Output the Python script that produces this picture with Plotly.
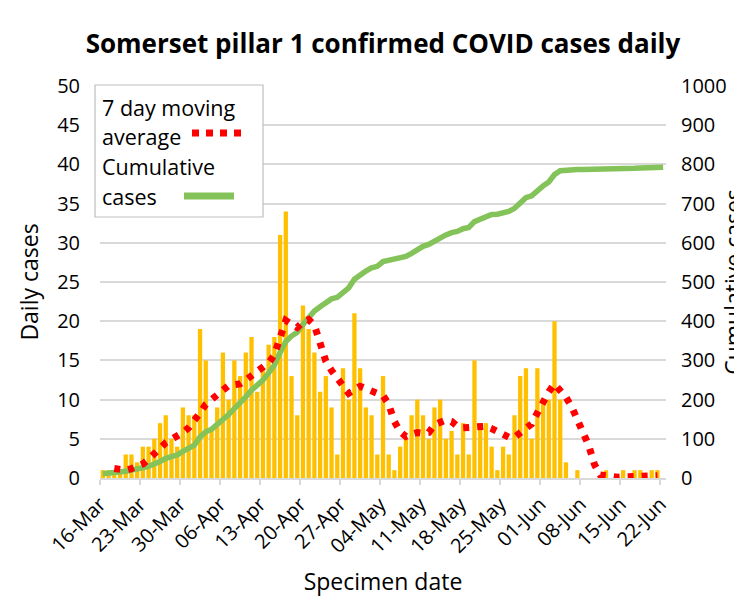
import plotly.graph_objects as go
import pandas as pd

# ---------------- data ----------------
start_date = "2020-03-16"
n_days = 99
tick_step_days = 7

daily_cases = [1, 1, 1, 1, 3, 3, 2, 4, 4, 5, 7, 8, 5, 4, 9, 8, 8,
               19, 15, 6, 9, 16, 10, 15, 13, 16, 18, 11, 14, 17, 18,
               31, 34, 13, 8, 22, 19, 16, 11, 13, 9, 3, 14, 10, 21,
               14, 9, 8, 3, 13, 3, 1, 4, 5, 8, 10, 8, 5, 9, 10, 5,
               6, 3, 7, 3, 15, 7, 7, 4, 1, 4, 3, 8, 13, 14, 5, 14, 10, 10, 20, 10,
               2, 0, 1, 0, 0, 0, 0, 1, 0, 0, 1, 0, 1, 1, 0, 1, 1, 0]

cumulative_cases = [11, 12, 13, 14, 17, 20, 22, 26, 30, 35, 42, 50, 55, 59, 68, 76, 84,
                    105, 118, 124, 136, 151, 162, 177, 191, 207, 224, 236, 250, 268, 288,
                    320, 348, 362, 372, 392, 410, 426, 437, 449, 457, 461, 474, 485, 507,
                    519, 528, 536, 540, 552, 555, 556, 560, 565, 573, 583, 591, 596, 605, 615, 620,
                    626, 629, 636, 639, 654, 661, 668, 672, 673, 677, 680, 688, 701, 715, 720, 734,
                    745, 755, 774, 784, 786, 786, 787, 787, 787, 787, 787, 788, 788, 788, 789, 789,
                    790, 791, 791, 792, 793, 793]

ma_first_day_index = 2
moving_average = [1.2, 1.1, 1.0, 1.2, 1.5, 1.8, 2.4, 3.0, 3.8, 4.5,
                  4.9, 5.3, 5.8, 6.4, 7.2, 8.3, 9.4, 10.0, 10.5, 11.1,
                  11.8, 11.9, 12.0, 12.5, 13.1, 13.6, 14.1, 14.7, 15.7, 17.8,
                  20.1, 19.6, 19.2, 19.9, 20.2, 19.5, 17.2, 14.9, 13.7, 12.8,
                  11.8, 10.8, 11.3, 11.7, 11.4, 11.1, 10.9, 10.5, 9.4, 7.2,
                  5.9, 5.3, 5.6, 5.8, 5.7, 5.8, 6.8, 7.2, 7.4, 7.2,
                  6.6, 6.4, 6.5, 6.6, 6.6, 6.6, 6.3, 6.0, 5.7, 5.2,
                  5.2, 5.7, 6.3, 6.9, 8.3, 9.8, 11.0, 12.0, 11.2, 10.3,
                  9.1, 7.4, 5.9, 4.1, 1.7, 0.4, 0.3, 0.1, 0.1, 0.15,
                  0.2, 0.25, 0.3, 0.3, 0.3, 0.3]

title_text = "Somerset pillar 1 confirmed COVID cases daily"
x_title = "Specimen date"
y_left_title = "Daily cases"
y_right_title = "Cumulative cases"
legend_lines = ["7 day moving", "average", "Cumulative", "cases"]

# ---------------- derived positions ----------------
dates = pd.date_range(start_date, periods=n_days, freq="D")
centers = dates + pd.Timedelta(hours=12)
ma_x = centers[ma_first_day_index:ma_first_day_index + len(moving_average)]
tick_dates = dates[::tick_step_days]

FONT = "Open Sans, Noto Sans, DejaVu Sans, sans-serif"
BAR = "#FFC000"
GREEN = "#84C25A"
RED = "#FF0000"
GRID = "#D9D9D9"
DOT_DASH = "6px,8px"

# the page body adds an 8px offset, so the figure is laid out in page pixels minus 8
OFF = 8
W, H = 742, 598
PLOT_L, PLOT_R, PLOT_T, PLOT_B = 100, 666, 86, 478   # page pixels
L = PLOT_L - OFF
T = PLOT_T - OFF
PW = PLOT_R - PLOT_L
PH = PLOT_B - PLOT_T
R = W - L - PW
B = H - T - PH


def px_x(px):
    return (px - PLOT_L) / PW


def px_y(py):
    return (PLOT_B - py) / PH


fig = go.Figure()
fig.add_trace(go.Bar(x=centers, y=daily_cases, marker=dict(color=BAR, line=dict(width=0)),
                     name="Daily cases", showlegend=False))
fig.add_trace(go.Scatter(x=centers, y=cumulative_cases, yaxis="y2", mode="lines",
                         line=dict(color=GREEN, width=5.5), name="Cumulative cases",
                         showlegend=False))
fig.add_trace(go.Scatter(x=ma_x, y=moving_average, yaxis="y3", mode="lines",
                         line=dict(color=RED, width=7, dash=DOT_DASH),
                         name="7 day moving average", showlegend=False))

shapes = [
    # legend box
    dict(type="rect", xref="paper", yref="paper", x0=px_x(95), x1=px_x(263),
         y0=px_y(217), y1=px_y(85), line=dict(color="#BFBFBF", width=1.2),
         fillcolor="white", layer="above"),
    dict(type="line", xref="paper", yref="paper", x0=px_x(192), x1=px_x(242),
         y0=px_y(133), y1=px_y(133), line=dict(color=RED, width=7, dash="7px,7px"), layer="above"),
    dict(type="line", xref="paper", yref="paper", x0=px_x(184), x1=px_x(234),
         y0=px_y(196), y1=px_y(196), line=dict(color=GREEN, width=7), layer="above"),
    # chart border (left edge)
    dict(type="line", xref="paper", yref="paper", x0=px_x(1), x1=px_x(1),
         y0=px_y(0), y1=px_y(H), line=dict(color=GRID, width=1.5)),
]

annotations = []
for txt, py in zip(legend_lines, [107, 137, 166, 196]):
    annotations.append(dict(text=txt, xref="paper", yref="paper", x=px_x(100), y=px_y(py),
                            xanchor="left", yanchor="middle", showarrow=False,
                            font=dict(size=21.5, family=FONT, color="black")))

fig.update_layout(
    width=W, height=H,
    margin=dict(l=L, r=R, t=T, b=B, autoexpand=False),
    paper_bgcolor="white", plot_bgcolor="white",
    font=dict(family=FONT, size=20, color="black"),
    title=dict(text="<b>" + title_text + "</b>", x=(383 - OFF) / W, xanchor="center",
               y=1 - (44 - OFF) / H, yanchor="middle", font=dict(size=26, color="black")),
    bargap=0.25,
    showlegend=False,
    xaxis=dict(type="date", range=[dates[0], dates[-1] + pd.Timedelta(days=1)],
               tickvals=tick_dates, tickformat="%d-%b", tickangle=-45,
               ticks="outside", ticklen=5, tickcolor=GRID, tickwidth=1.5,
               showline=True, linecolor=GRID, linewidth=1.5, showgrid=False,
               automargin=False,
               title=dict(text=x_title, font=dict(size=23), standoff=16)),
    yaxis=dict(range=[0, 50], dtick=5, showgrid=True, gridcolor=GRID, gridwidth=1.5,
               zeroline=False, automargin=False, ticklabelstandoff=19,
               title=dict(text=y_left_title, font=dict(size=23), standoff=12)),
    yaxis2=dict(range=[0, 1000], dtick=100, overlaying="y", side="right", showgrid=False,
                zeroline=False, automargin=False, ticklabelstandoff=14,
                title=dict(text=y_right_title, font=dict(size=23), standoff=0)),
    yaxis3=dict(range=[0, 50], overlaying="y", visible=False),
    shapes=shapes,
    annotations=annotations,
)

fig.write_html("out.html")
